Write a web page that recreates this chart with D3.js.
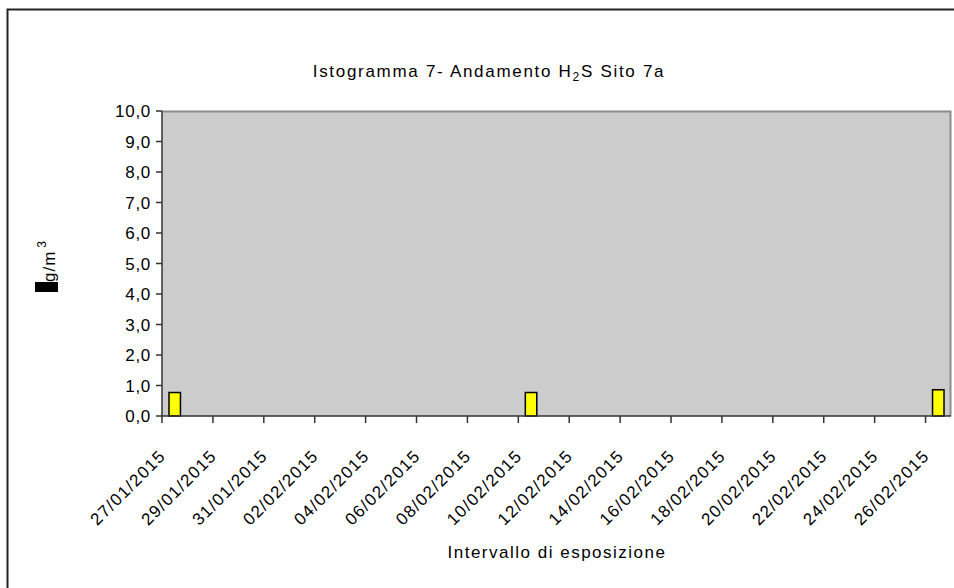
<!DOCTYPE html>
<html>
<head>
<meta charset="utf-8">
<script src="https://cdn.jsdelivr.net/npm/d3@7"></script>
<style>
  body { margin: 0; background: #fff; }
  text { font-family: "Liberation Sans", Arial, sans-serif; fill: #000; }
</style>
</head>
<body>
<div id="chart"></div>
<script>
// Chart data: daily categories 27/01/2015 - 26/02/2015
var dates = ["27/01/2015", "28/01/2015", "29/01/2015", "30/01/2015", "31/01/2015",
             "01/02/2015", "02/02/2015", "03/02/2015", "04/02/2015", "05/02/2015",
             "06/02/2015", "07/02/2015", "08/02/2015", "09/02/2015", "10/02/2015",
             "11/02/2015", "12/02/2015", "13/02/2015", "14/02/2015", "15/02/2015",
             "16/02/2015", "17/02/2015", "18/02/2015", "19/02/2015", "20/02/2015",
             "21/02/2015", "22/02/2015", "23/02/2015", "24/02/2015", "25/02/2015",
             "26/02/2015"];
var barDates  = ["27/01/2015", "10/02/2015", "26/02/2015"];
var barValues = [0.77, 0.77, 0.86];
var yTicks = [0, 1, 2, 3, 4, 5, 6, 7, 8, 9, 10];

var width = 954, height = 588;
var plot = { left: 162, right: 951, top: 111, bottom: 416 };

var svg = d3.select("#chart").append("svg")
    .attr("width", width)
    .attr("height", height);

// outer chart border (runs off the right and bottom edges)
svg.append("rect")
    .attr("x", 7.5).attr("y", 9.5)
    .attr("width", 980).attr("height", 600)
    .attr("fill", "none")
    .attr("stroke", "#222")
    .attr("stroke-width", 2);

var x = d3.scaleBand()
    .domain(dates)
    .range([plot.left, plot.right])
    .paddingInner(0.55)
    .paddingOuter(0.275);

var xCat = d3.scaleBand()
    .domain(dates)
    .range([plot.left, plot.right]);

var y = d3.scaleLinear()
    .domain([0, 10])
    .range([plot.bottom, plot.top]);

// plot area
svg.append("rect")
    .attr("x", plot.left).attr("y", plot.top)
    .attr("width", plot.right - plot.left)
    .attr("height", plot.bottom - plot.top)
    .attr("fill", "#cccccc");

svg.append("path")
    .attr("d", "M" + plot.left + "," + (plot.top + 0.5) + "H" + (plot.right - 0.5) + "V" + plot.bottom)
    .attr("fill", "none")
    .attr("stroke", "#8c8c8c")
    .attr("stroke-width", 2);

// bars
var bars = barDates.map((d, i) => ({ date: d, value: barValues[i] }));
svg.append("g")
    .selectAll("rect")
    .data(bars)
    .enter()
    .append("rect")
    .attr("x", d => x(d.date))
    .attr("y", d => y(d.value))
    .attr("width", x.bandwidth())
    .attr("height", d => y(0) - y(d.value))
    .attr("fill", "#ffff00")
    .attr("stroke", "#000")
    .attr("stroke-width", 1.5);

// y axis
var yAxis = svg.append("g");
yAxis.append("line")
    .attr("x1", plot.left).attr("x2", plot.left)
    .attr("y1", plot.top).attr("y2", plot.bottom)
    .attr("stroke", "#333").attr("stroke-width", 1.5);
yAxis.selectAll(".yt")
    .data(yTicks)
    .enter()
    .append("line")
    .attr("x1", plot.left - 6).attr("x2", plot.left)
    .attr("y1", d => y(d)).attr("y2", d => y(d))
    .attr("stroke", "#333").attr("stroke-width", 1.5);
yAxis.selectAll("text")
    .data(yTicks)
    .enter()
    .append("text")
    .attr("x", 151)
    .attr("y", d => y(d) + 6)
    .attr("text-anchor", "end")
    .attr("font-size", "17px")
    .attr("letter-spacing", "0.7px")
    .text(d => d3.format(".1f")(d).replace(".", ","));

// x axis
var labelDates = dates.filter((d, i) => i % 2 === 0);
var xAxis = svg.append("g");
xAxis.append("line")
    .attr("x1", plot.left).attr("x2", plot.right)
    .attr("y1", plot.bottom).attr("y2", plot.bottom)
    .attr("stroke", "#333").attr("stroke-width", 1.5);
xAxis.selectAll(".xt")
    .data(labelDates)
    .enter()
    .append("line")
    .attr("x1", d => xCat(d)).attr("x2", d => xCat(d))
    .attr("y1", plot.bottom).attr("y2", plot.bottom + 7)
    .attr("stroke", "#333").attr("stroke-width", 1.5);
xAxis.selectAll("text")
    .data(labelDates)
    .enter()
    .append("text")
    .attr("text-anchor", "end")
    .attr("font-size", "17px")
    .attr("letter-spacing", "1.3px")
    .attr("transform", d => "translate(" + (xCat(d) + xCat.bandwidth() / 2 - 8) + "," + (plot.bottom + 41) + ")rotate(-45)")
    .text(d => d);

// title
var title = svg.append("text")
    .attr("x", 489).attr("y", 77)
    .attr("text-anchor", "middle")
    .attr("font-size", "17px")
    .attr("letter-spacing", "1.7px");
title.append("tspan").text("Istogramma 7- Andamento H");
title.append("tspan").attr("font-size", "12px").attr("dy", 4).text("2");
title.append("tspan").attr("dy", -4).text("S Sito 7a");

// x axis title
svg.append("text")
    .attr("x", 557).attr("y", 558)
    .attr("text-anchor", "middle")
    .attr("font-size", "17px")
    .attr("letter-spacing", "1.5px")
    .text("Intervallo di esposizione");

// y axis title (the micro sign shows as a filled box in the original)
var yt = svg.append("g").attr("transform", "translate(55,292)rotate(-90)");
yt.append("rect")
    .attr("x", 0).attr("y", -20)
    .attr("width", 10).attr("height", 23)
    .attr("fill", "#000");
var ytt = yt.append("text")
    .attr("x", 10).attr("y", 0)
    .attr("font-size", "17px")
    .attr("letter-spacing", "1px");
ytt.append("tspan").text("g/m");
ytt.append("tspan").attr("font-size", "12px").attr("dx", 3).attr("dy", -9).text("3");
</script>
</body>
</html>
